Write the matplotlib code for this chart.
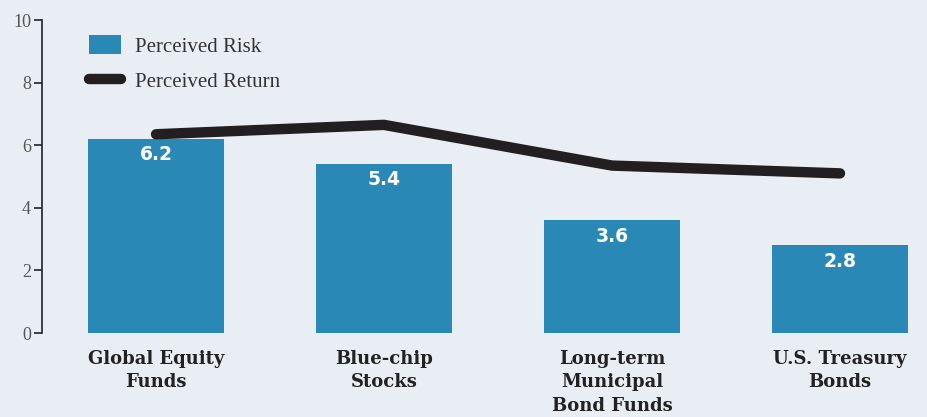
import matplotlib
matplotlib.use('Agg')
import matplotlib.pyplot as plt
import numpy as np

categories = ['Global Equity\nFunds', 'Blue-chip\nStocks',
              'Long-term\nMunicipal\nBond Funds', 'U.S. Treasury\nBonds']
perceived_risk = [6.2, 5.4, 3.6, 2.8]
perceived_return = [6.35, 6.65, 5.35, 5.1]
y_ticks = [0, 2, 4, 6, 8, 10]

bg = '#E9EEF5'
bar_color = '#2A88B6'
line_color = '#231F20'

fig = plt.figure(figsize=(9.28, 4.17), dpi=100, facecolor=bg)
ax = fig.add_axes([0.0453, 0.2014, 0.9547, 0.7506])
ax.set_facecolor(bg)

x = np.arange(len(categories))
bars = ax.bar(x, perceived_risk, width=0.6, color=bar_color, label='Perceived Risk', zorder=2)
ax.plot(x, perceived_return, color=line_color, lw=7.5, solid_capstyle='round',
        solid_joinstyle='round', label='Perceived Return', zorder=3)

# value labels just inside the top of each bar
for xi, v in zip(x, perceived_risk):
    ax.text(xi, v - 0.2, f'{v:.1f}', ha='center', va='top', color='white',
            fontsize=13.5, fontweight='heavy', family='DejaVu Sans', zorder=4)

ax.set_xlim(-0.5, 3.386)
ax.set_ylim(0, 10)
ax.set_yticks(y_ticks)
ax.set_yticklabels([str(t) for t in y_ticks], family='Liberation Serif', fontsize=13, color='#555555')
ax.tick_params(axis='y', direction='out', length=6, width=1.2, color='#222222', pad=2)

ax.set_xticks(x)
ax.set_xticklabels(categories, family='DejaVu Serif', fontweight='bold', fontsize=13,
                   color='#222222', linespacing=1.4)
ax.tick_params(axis='x', length=0, pad=12)

for s in ['top', 'right', 'bottom']:
    ax.spines[s].set_visible(False)
ax.spines['left'].set_color('#222222')
ax.spines['left'].set_linewidth(1.2)

handles, labels = ax.get_legend_handles_labels()
order = [labels.index('Perceived Risk'), labels.index('Perceived Return')]
leg = ax.legend([handles[i] for i in order], [labels[i] for i in order],
                loc='upper left', bbox_to_anchor=(0.053, 0.952), frameon=False,
                prop={'family': 'Liberation Serif', 'size': 15}, handlelength=1.55,
                handleheight=1.05, labelspacing=0.65, handletextpad=0.65,
                borderpad=0, borderaxespad=0, labelcolor='#333333')

fig.savefig('out.png', dpi=100, facecolor=bg)
